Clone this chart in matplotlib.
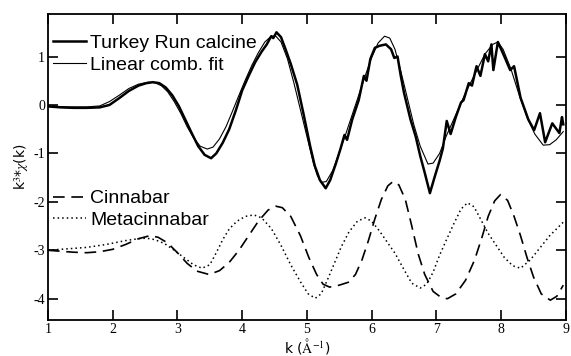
import numpy as np
from matplotlib import pyplot as plt

plt.rcParams['mathtext.fontset'] = 'stix'

# Turkey Run calcine (measured, noisy)
k_data = [1.0, 1.2, 1.4, 1.6, 1.8, 1.95, 2.1, 2.25, 2.4, 2.52, 2.62, 2.72, 2.82, 2.92,
          3.02, 3.12, 3.22, 3.32, 3.42, 3.52, 3.6, 3.7, 3.8, 3.9, 4.0, 4.1, 4.2, 4.3,
          4.38, 4.42, 4.45, 4.48, 4.53, 4.6, 4.67, 4.75, 4.85, 4.95, 5.05, 5.12, 5.2,
          5.29, 5.36, 5.45, 5.52, 5.58, 5.62, 5.7, 5.8, 5.88, 5.92, 5.98, 6.05, 6.12,
          6.22, 6.3, 6.35, 6.4, 6.45, 6.5, 6.6, 6.68, 6.75, 6.82, 6.9, 6.97, 7.05, 7.1,
          7.16, 7.22, 7.3, 7.38, 7.42, 7.5, 7.55, 7.62, 7.68, 7.75, 7.8, 7.85, 7.88,
          7.95, 8.05, 8.14, 8.2, 8.3, 8.42, 8.51, 8.6, 8.68, 8.79, 8.9, 8.94, 8.96]
chi_data = [-0.03, -0.05, -0.06, -0.06, -0.05, 0.0, 0.14, 0.29, 0.4, 0.45, 0.47, 0.45,
            0.36, 0.2, -0.02, -0.3, -0.58, -0.85, -1.03, -1.1, -1.0, -0.78, -0.5, -0.12,
            0.3, 0.6, 0.88, 1.1, 1.25, 1.35, 1.42, 1.38, 1.5, 1.4, 1.15, 0.85, 0.42,
            -0.2, -0.85, -1.25, -1.55, -1.72, -1.55, -1.2, -0.9, -0.62, -0.72, -0.3, 0.1,
            0.6, 0.5, 0.95, 1.18, 1.22, 1.25, 1.15, 0.97, 1.0, 0.6, 0.25, -0.3, -0.65,
            -1.05, -1.4, -1.82, -1.5, -1.15, -0.9, -0.33, -0.6, -0.25, 0.05, 0.1, 0.45,
            0.4, 0.8, 0.6, 1.05, 0.9, 1.25, 0.72, 1.3, 1.0, 0.72, 0.8, 0.15, -0.3, -0.52,
            -0.17, -0.77, -0.38, -0.58, -0.25, -0.4]

# Linear combination fit
k_fit = [1.0, 1.3, 1.6, 1.8, 1.95, 2.1, 2.25, 2.4, 2.55, 2.65, 2.75, 2.85, 2.95, 3.05,
         3.15, 3.25, 3.35, 3.46, 3.55, 3.65, 3.75, 3.85, 3.95, 4.05, 4.15, 4.25, 4.35,
         4.45, 4.52, 4.6, 4.7, 4.8, 4.9, 5.0, 5.1, 5.16, 5.22, 5.3, 5.4, 5.5, 5.6, 5.7,
         5.8, 5.9, 6.0, 6.1, 6.2, 6.28, 6.36, 6.45, 6.55, 6.65, 6.75, 6.87, 6.95, 7.05,
         7.15, 7.3, 7.45, 7.6, 7.75, 7.87, 7.95, 8.03, 8.15, 8.28, 8.4, 8.52, 8.65,
         8.75, 8.85, 8.96]
chi_fit = [-0.02, -0.04, -0.04, -0.02, 0.07, 0.2, 0.34, 0.43, 0.47, 0.46, 0.4, 0.27,
           0.07, -0.17, -0.45, -0.68, -0.85, -0.91, -0.87, -0.7, -0.45, -0.13, 0.2, 0.52,
           0.82, 1.08, 1.3, 1.42, 1.42, 1.3, 0.95, 0.45, -0.1, -0.65, -1.2, -1.45, -1.6,
           -1.58, -1.35, -0.98, -0.6, -0.2, 0.2, 0.6, 0.98, 1.28, 1.42, 1.38, 1.15, 0.7,
           0.15, -0.4, -0.85, -1.22, -1.2, -1.0, -0.65, -0.2, 0.25, 0.65, 1.05, 1.25,
           1.3, 1.15, 0.75, 0.2, -0.25, -0.6, -0.83, -0.82, -0.72, -0.55]

# Cinnabar reference (offset)
k_cin = [1.0, 1.2, 1.4, 1.6, 1.8, 2.0, 2.2, 2.4, 2.57, 2.7, 2.85, 3.0, 3.15, 3.3, 3.49,
         3.65, 3.8, 3.95, 4.1, 4.25, 4.4, 4.52, 4.62, 4.75, 4.9, 5.03, 5.15, 5.25, 5.35,
         5.5, 5.64, 5.75, 5.85, 5.95, 6.05, 6.15, 6.25, 6.33, 6.42, 6.52, 6.62, 6.72,
         6.82, 6.95, 7.07, 7.17, 7.3, 7.45, 7.59, 7.7, 7.8, 7.9, 7.99, 8.1, 8.2, 8.3,
         8.4, 8.5, 8.62, 8.76, 8.86, 8.96]
chi_cin = [-3.0, -3.02, -3.04, -3.05, -3.03, -2.98, -2.88, -2.76, -2.7, -2.73, -2.85,
           -3.05, -3.27, -3.43, -3.5, -3.42, -3.25, -3.0, -2.7, -2.4, -2.17, -2.09, -2.12,
           -2.3, -2.7, -3.15, -3.5, -3.7, -3.76, -3.72, -3.66, -3.5, -3.2, -2.8, -2.35,
           -1.95, -1.67, -1.58, -1.65, -1.95, -2.5, -3.08, -3.5, -3.85, -3.97, -4.0,
           -3.9, -3.62, -3.2, -2.75, -2.3, -1.98, -1.85, -1.97, -2.3, -2.7, -3.15, -3.55,
           -3.9, -4.03, -3.95, -3.72]

# Metacinnabar reference (offset)
k_meta = [1.0, 1.3, 1.6, 1.9, 2.2, 2.4, 2.52, 2.65, 2.8, 2.95, 3.1, 3.25, 3.38, 3.5,
          3.6, 3.7, 3.8, 3.92, 4.05, 4.18, 4.3, 4.45, 4.6, 4.75, 4.9, 5.02, 5.13, 5.22,
          5.32, 5.43, 5.53, 5.65, 5.78, 5.9, 6.0, 6.12, 6.25, 6.36, 6.5, 6.62, 6.75,
          6.85, 6.95, 7.05, 7.15, 7.27, 7.38, 7.48, 7.58, 7.7, 7.8, 7.9, 8.05, 8.18,
          8.3, 8.45, 8.6, 8.75, 8.96]
chi_meta = [-3.0, -2.97, -2.94, -2.88, -2.8, -2.76, -2.75, -2.78, -2.86, -3.0, -3.15,
            -3.3, -3.37, -3.3, -3.05, -2.78, -2.56, -2.4, -2.3, -2.27, -2.33, -2.55,
            -2.9, -3.3, -3.65, -3.9, -3.99, -3.9, -3.6, -3.25, -2.93, -2.62, -2.4, -2.33,
            -2.4, -2.6, -2.85, -3.06, -3.4, -3.68, -3.78, -3.7, -3.45, -3.1, -2.8, -2.45,
            -2.15, -2.02, -2.1, -2.4, -2.65, -2.85, -3.15, -3.32, -3.37, -3.2, -2.95,
            -2.7, -2.42]

xticks = [1, 2, 3, 4, 5, 6, 7, 8, 9]
yticks = [1, 0, -1, -2, -3, -4]

fig = plt.figure(figsize=(5.71, 3.56), dpi=100)
ax = fig.add_axes([0.084, 0.101, 0.907, 0.860])

h1, = ax.plot(k_data, chi_data, color='black', lw=1.8, label='Turkey Run calcine')
h2, = ax.plot(k_fit, chi_fit, color='black', lw=0.8, label='Linear comb. fit')
h3, = ax.plot(k_cin, chi_cin, color='black', lw=1.2, dashes=(7, 4), label='Cinnabar')
h4, = ax.plot(k_meta, chi_meta, color='black', lw=1.1, dashes=(1, 2), label='Metacinnabar')

ax.set_xlim(1, 8.95)
ax.set_ylim(-4.44, 1.88)
ax.set_xticks(xticks)
ax.set_yticks(yticks)
ax.set_xticklabels([str(t) for t in xticks], family='Liberation Serif', fontsize=10)
ax.set_yticklabels([str(t) for t in yticks], family='Liberation Serif', fontsize=10)
ax.tick_params(direction='in', top=True, right=True, length=7, width=1.2, pad=2)
for s in ax.spines.values():
    s.set_linewidth(1.3)

ax.set_xlabel(r'k ($\mathrm{\AA}^{-1}$)', fontsize=10, labelpad=0)
ax.set_ylabel(r'k$^3$*$\chi$(k)', fontsize=10, labelpad=2)

lfont = {'family': 'Liberation Sans', 'size': 14}
leg1 = ax.legend(handles=[h1, h2], loc='upper left', bbox_to_anchor=(-0.016, 0.977),
                 prop=lfont, frameon=False, handlelength=1.7, handletextpad=0.2,
                 labelspacing=0.2, borderaxespad=0.3)
ax.add_artist(leg1)
ax.legend(handles=[h3, h4], loc='upper left', bbox_to_anchor=(-0.016, 0.47),
          prop=lfont, frameon=False, handlelength=1.7, handletextpad=0.2,
          labelspacing=0.2, borderaxespad=0.3)

plt.savefig('out.png', dpi=100)
